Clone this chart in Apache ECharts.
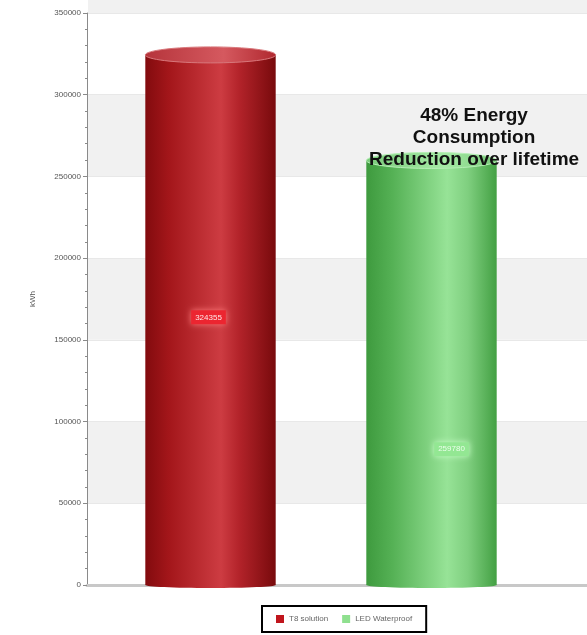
<!DOCTYPE html>
<html>
<head>
<meta charset="utf-8">
<script src="https://cdn.jsdelivr.net/npm/echarts@6/dist/echarts.min.js"></script>
<style>
  html, body { margin: 0; padding: 0; background: #fff; }
  #chart { width: 587px; height: 635px; }
</style>
</head>
<body>
<div id="chart"></div>
<script>
// Lifetime energy use per lighting solution (kWh)
const categories = ['T8 solution', 'LED Waterproof'];
const energyValues = [324355, 259780];
const yTicks = { min: 0, max: 350000, interval: 50000 };
const annotation = ['48% Energy', 'Consumption', 'Reduction over lifetime'];

// per-bar look: body gradient, cap, value badge
const palettes = [
  {
    legend: '#c0151c',
    body: [[0, '#820b0e'], [0.18, '#a3161a'], [0.58, '#cd3c42'], [0.72, '#b3232a'], [1, '#780a0c']],
    cap: [[0, '#b5343b'], [0.6, '#d5595f'], [1, '#b0282f']],
    capStroke: '#d8777b',
    badgeBg: '#ec2530', badgeText: '#ffe6e6', badgeShadow: '#ff7a7a',
    badgeAt: 0.505, badgeDx: -2
  },
  {
    legend: '#8fe08f',
    body: [[0, '#3e9a3e'], [0.2, '#55b155'], [0.62, '#97e397'], [0.78, '#7fcf7f'], [1, '#43a043']],
    cap: [[0, '#79c979'], [0.6, '#a6eba6'], [1, '#78c878']],
    capStroke: '#b5efb5',
    badgeBg: '#93e793', badgeText: '#e9ffe9', badgeShadow: '#c8ffc8',
    badgeAt: 0.32, badgeDx: 20
  }
];

function grad(stops) {
  return new echarts.graphic.LinearGradient(0, 0, 1, 0,
    stops.map(s => ({ offset: s[0], color: s[1] })));
}

function cylinder(params, api) {
  const idx = api.value(0);
  const pal = palettes[idx];
  const top = api.coord([idx, api.value(1)]);
  const base = api.coord([idx, 0]);
  const w = api.size([1, 0])[0] * 0.59;
  const rx = w / 2, ry = 8;
  const h = base[1] - top[1];
  const badgeY = base[1] - h * pal.badgeAt;
  return {
    type: 'group',
    children: [
      { type: 'ellipse', shape: { cx: top[0], cy: base[1], rx: rx, ry: 3 },
        style: { fill: grad(pal.body) } },
      { type: 'rect', shape: { x: top[0] - rx, y: top[1], width: w, height: h },
        style: { fill: grad(pal.body) } },
      { type: 'ellipse', shape: { cx: top[0], cy: top[1], rx: rx, ry: ry },
        style: { fill: grad(pal.cap), stroke: pal.capStroke, lineWidth: 1 } },
      { type: 'text', x: top[0] + pal.badgeDx, y: badgeY,
        style: {
          text: String(api.value(1)), fill: pal.badgeText,
          font: '8px Arial', align: 'center', verticalAlign: 'middle',
          backgroundColor: pal.badgeBg, padding: [3, 4],
          shadowBlur: 6, shadowColor: pal.badgeShadow
        } }
    ]
  };
}

const chart = echarts.init(document.getElementById('chart'));
chart.setOption({
  animation: false,
  backgroundColor: '#fff',
  grid: [
    { left: 87, right: 0, top: 13, bottom: 50 },
    { left: 100, right: 45, top: 13, bottom: 50 }
  ],
  xAxis: [
    { gridIndex: 0, type: 'value', min: 0, max: 1,
      axisLine: { show: true, onZero: false, lineStyle: { color: '#c8c8c8', width: 3 } },
      axisTick: { show: false }, axisLabel: { show: false }, splitLine: { show: false } },
    { gridIndex: 1, type: 'category', data: categories, show: false }
  ],
  yAxis: [
    { gridIndex: 0, type: 'value', min: yTicks.min, max: yTicks.max, interval: yTicks.interval,
      name: 'kWh', nameLocation: 'middle', nameGap: 50,
      nameTextStyle: { fontSize: 8, color: '#555', fontFamily: 'Arial' },
      axisLine: { show: true, lineStyle: { color: '#8a8a8a' } },
      axisTick: { show: true, length: 4, lineStyle: { color: '#8a8a8a' } },
      minorTick: { show: true, splitNumber: 5, length: 2, lineStyle: { color: '#8a8a8a' } },
      axisLabel: { fontSize: 8, color: '#555', fontFamily: 'Arial', margin: 6,
        formatter: v => String(v) },
      splitLine: { show: true, lineStyle: { color: '#e8e8e8' } },
      splitArea: { show: true, areaStyle: { color: ['#ffffff', '#f1f1f1'] } } },
    { gridIndex: 1, type: 'value', min: yTicks.min, max: yTicks.max, interval: yTicks.interval, show: false }
  ],
  legend: {
    left: 262, bottom: 3,
    data: categories,
    icon: 'rect', itemWidth: 8, itemHeight: 8, itemGap: 14,
    borderColor: '#000', borderWidth: 2, backgroundColor: '#fff',
    padding: [9, 14],
    textStyle: { fontSize: 8, color: '#666', fontFamily: 'Arial' }
  },
  graphic: [
    { type: 'rect', left: 88, top: 0, shape: { width: 499, height: 13 },
      style: { fill: '#f1f1f1' }, z: -1 },
    { type: 'text', left: 369, top: 105, z: 100,
      style: { text: annotation.join('\n'), font: 'bold 19px Arial', fill: '#111',
        textAlign: 'center', lineHeight: 22 } }
  ],
  series: categories.map((name, i) => ({
    name: name,
    type: 'custom',
    xAxisIndex: 1, yAxisIndex: 1,
    itemStyle: { color: palettes[i].legend },
    renderItem: cylinder,
    encode: { x: 0, y: 1 },
    data: [[i, energyValues[i]]]
  }))
});
</script>
</body>
</html>
